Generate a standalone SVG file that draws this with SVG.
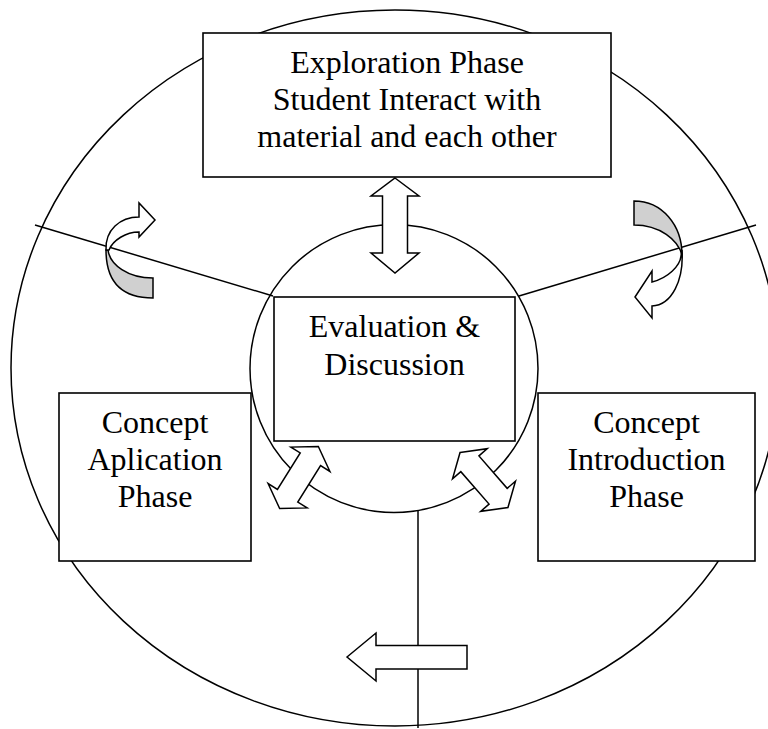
<svg xmlns="http://www.w3.org/2000/svg" xmlns:xlink="http://www.w3.org/1999/xlink" width="768" height="729" viewBox="0 0 768 729">
<style>
.ln{fill:none;stroke:#000;stroke-width:1.5}
.box{fill:#fff;stroke:#000;stroke-width:1.6}
.ar{fill:#fff;stroke:#000;stroke-width:1.5;stroke-linejoin:miter}
.gr{fill:#d0d0d0;stroke:#000;stroke-width:1.5}
.t{font-family:"Liberation Serif","Times New Roman",serif;font-size:32px;fill:#000;text-anchor:middle}
</style>
<defs>
<path id="dbl" d="M0,-36.5 L23,-21.5 L12,-21.5 L12,21.5 L23,21.5 L0,36.5 L-23,21.5 L-12,21.5 L-12,-21.5 L-23,-21.5 Z"/>
</defs>
<rect width="768" height="729" fill="#fff"/>
<g id="outer-cycle">
<ellipse class="ln" cx="395" cy="368" rx="384" ry="358"/>
</g>
<g id="connectors">
<line class="ln" x1="35" y1="225" x2="273" y2="296"/>
<line class="ln" x1="519" y1="296" x2="756" y2="225"/>
<line class="ln" x1="418" y1="511" x2="418" y2="728"/>
<circle class="ln" cx="394" cy="368.5" r="144"/>
</g>
<g id="exploration">
<rect class="box" x="203" y="33" width="408" height="144"/>
<text class="t" x="407" y="73">Exploration Phase</text>
<text class="t" x="407" y="110">Student Interact with</text>
<text class="t" x="407" y="147">material and each other</text>
</g>
<g id="evaluation">
<rect class="box" x="274" y="297" width="241" height="144"/>
<text class="t" x="394.5" y="337">Evaluation &amp;</text>
<text class="t" x="394.5" y="375">Discussion</text>
</g>
<g id="application">
<rect class="box" x="59" y="393" width="192" height="168"/>
<text class="t" x="155" y="433">Concept</text>
<text class="t" x="155" y="470">Aplication</text>
<text class="t" x="155" y="507">Phase</text>
</g>
<g id="introduction">
<rect class="box" x="538" y="393" width="217" height="168"/>
<text class="t" x="646.5" y="433">Concept</text>
<text class="t" x="646.5" y="470">Introduction</text>
<text class="t" x="646.5" y="507">Phase</text>
</g>
<g id="arrows">
<polygon class="ar" points="395,178 419,196 407.5,196 407.5,253 419,253 395,273 371,253 382.5,253 382.5,196 371,196"/>
<use href="#dbl" xlink:href="#dbl" class="ar" transform="translate(299,477.5) rotate(32)"/>
<use href="#dbl" xlink:href="#dbl" class="ar" transform="translate(484,480) rotate(-41)"/>
<polygon class="ar" points="347,657 376,633 376,645.5 467,645.5 467,669 376,669 376,681"/>
<path class="gr" d="M106,250 C106,285 125,298 153,298 L153,278 C128,278 110,265 108,250 Z"/>
<path class="ar" d="M106,250 C105,230 120,217 139,217 L139,203 L155,220 L139,237 L139,232 C126,232 113,240 109,250 Z"/>
<path class="gr" d="M634,201 C662,201 682,225 682,255 C678,240 660,225 634,225 Z"/>
<path class="ar" d="M682,250 C684,280 672,305 652,306 L652,318 L635,297 L652,271 L652,282 C668,278 680,266 681,256 Z"/>
</g>
</svg>
